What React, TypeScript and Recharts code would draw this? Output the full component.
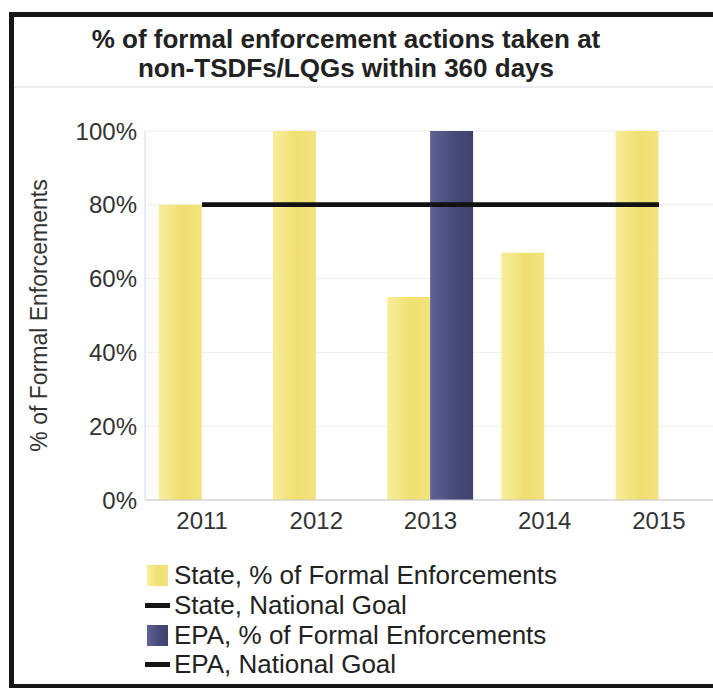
import { Bar, CartesianGrid, ComposedChart, Line, XAxis, YAxis } from "recharts";

const years = ["2011", "2012", "2013", "2014", "2015"];
const stateRate = [80, 100, 55, 67, 100];
const epaRate = [null, null, 100, null, null];
const stateGoal = [80, 80, 80, 80, 80];
const epaGoal = [80, 80, 80, 80, 80];
const yTicks = [0, 20, 40, 60, 80, 100];
const titleLines = ["% of formal enforcement actions taken at", "non-TSDFs/LQGs within 360 days"];
const legendNames = [
    "State, % of Formal Enforcements",
    "State, National Goal",
    "EPA, % of Formal Enforcements",
    "EPA, National Goal",
];

const data = years.map((year, i) => ({
    year,
    state: stateRate[i],
    epa: epaRate[i],
    stateGoal: stateGoal[i],
    epaGoal: epaGoal[i],
}));

const font = "'Liberation Sans', Arial, sans-serif";
const yellowBg = "linear-gradient(90deg, #f7ee9c, #f0df70 55%, #f2e37e)";
const blueBg = "linear-gradient(90deg, #5e6294, #484b7a 55%, #3f426c)";

function YLabel(props: any) {
    const vb = props.viewBox || { x: 0, y: 0, height: 0 };
    const cx = vb.x + 39;
    const cy = vb.y + vb.height / 2;
    return (
        <text x={cx} y={cy} transform={`rotate(-90 ${cx} ${cy})`} textAnchor="middle" dominantBaseline="central"
            fontSize={23} fill="#333" fontFamily={font}>
            % of Formal Enforcements
        </text>
    );
}

function Swatch({ kind, bg }: { kind: string, bg?: string }) {
    if (kind === "rect") {
        return <div style={{ width: 21, height: 21, marginLeft: 147, marginRight: 6, background: bg }} />;
    }
    return <div style={{ width: 25, height: 5, marginLeft: 145, marginRight: 4, background: "#151515" }} />;
}

export default function App() {
    const swatches = [
        { kind: "rect", bg: yellowBg },
        { kind: "line" },
        { kind: "rect", bg: blueBg },
        { kind: "line" },
    ];
    return (
        <div style={{ position: "relative", width: 713, height: 688, overflow: "hidden", background: "#fff", fontFamily: font }}>
            <style>{"body{margin:0;overflow:hidden}"}</style>
            <div style={{ position: "absolute", left: 9, top: 12, width: 760, height: 677, border: "5px solid #161616", boxSizing: "border-box" }} />
            <div style={{ position: "absolute", left: 14, top: 86, width: 720, height: 2, background: "#ececec" }} />
            <div style={{ position: "absolute", left: 46, top: 25, width: 600, textAlign: "center", fontSize: 26, lineHeight: "29px", fontWeight: "bold", color: "#222" }}>
                {titleLines.map((t) => <div key={t}>{t}</div>)}
            </div>
            <div style={{ position: "absolute", left: 0, top: 0 }}>
                <ComposedChart width={760} height={688} data={data} barCategoryGap="12%" barGap={0}
                    margin={{ top: 131, right: 44, bottom: 158, left: 0 }}>
                    <defs>
                        <linearGradient id="gState" x1="0" y1="0" x2="1" y2="0">
                            <stop offset="0%" stopColor="#f7ee9c" />
                            <stop offset="55%" stopColor="#f0df70" />
                            <stop offset="100%" stopColor="#f2e37e" />
                        </linearGradient>
                        <linearGradient id="gEpa" x1="0" y1="0" x2="1" y2="0">
                            <stop offset="0%" stopColor="#5e6294" />
                            <stop offset="55%" stopColor="#484b7a" />
                            <stop offset="100%" stopColor="#3f426c" />
                        </linearGradient>
                    </defs>
                    <CartesianGrid vertical={false} stroke="#ececec" />
                    <XAxis dataKey="year" height={30} tickLine={false} tickSize={0} tickMargin={12}
                        axisLine={{ stroke: "#c8c8c8" }} tick={{ fontSize: 24, fill: "#333", fontFamily: font }} />
                    <YAxis width={145} domain={[0, 100]} ticks={yTicks} tickFormatter={(v) => `${v}%`}
                        tickLine={false} tickSize={0} tickMargin={8} axisLine={{ stroke: "#d5d9e4" }}
                        tick={{ fontSize: 24, fill: "#333", fontFamily: font }} label={{ content: YLabel }} />
                    <Bar dataKey="state" name={legendNames[0]} fill="url(#gState)" isAnimationActive={false} />
                    <Bar dataKey="epa" name={legendNames[2]} fill="url(#gEpa)" isAnimationActive={false} />
                    <Line dataKey="stateGoal" name={legendNames[1]} stroke="#111" strokeWidth={4.5} dot={false} activeDot={false} isAnimationActive={false} />
                    <Line dataKey="epaGoal" name={legendNames[3]} stroke="#111" strokeWidth={4.5} dot={false} activeDot={false} isAnimationActive={false} />
                </ComposedChart>
            </div>
            <div style={{ position: "absolute", left: 0, top: 561, fontSize: 26, color: "#222" }}>
                {legendNames.map((name, i) => (
                    <div key={name} style={{ display: "flex", alignItems: "center", height: 29.7, whiteSpace: "nowrap" }}>
                        <Swatch kind={swatches[i].kind} bg={swatches[i].bg} />
                        <span>{name}</span>
                    </div>
                ))}
            </div>
        </div>
    );
}
